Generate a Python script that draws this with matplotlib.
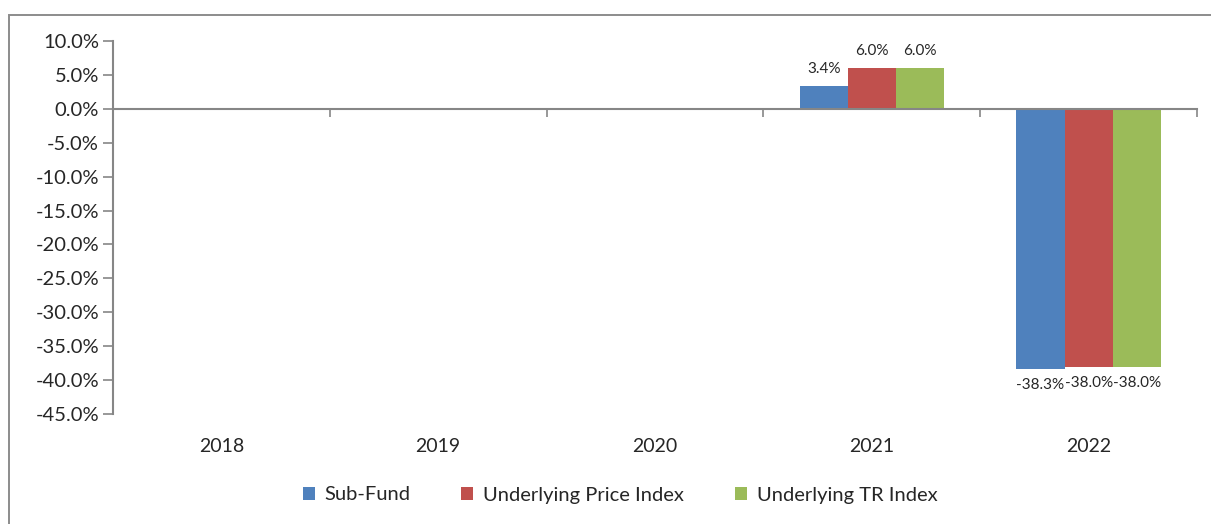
import numpy as np
import matplotlib
matplotlib.use("Agg")
import matplotlib.pyplot as plt
from matplotlib.patches import Rectangle
from matplotlib.ticker import FuncFormatter

plt.rcParams['font.family'] = ['Lato', 'DejaVu Sans']

# --------------------------------------------------------------
# data
years = ['2018', '2019', '2020', '2021', '2022']
sub_fund = [np.nan, np.nan, np.nan, 3.4, -38.3]
price_index = [np.nan, np.nan, np.nan, 6.0, -38.0]
tr_index = [np.nan, np.nan, np.nan, 6.0, -38.0]

series_names = ['Sub-Fund', 'Underlying Price Index', 'Underlying TR Index']
series_colors = ['#4F81BD', '#C0504D', '#9BBB59']
axis_gray = '#868686'
text_color = '#262626'

# --------------------------------------------------------------
# figure
fig = plt.figure(figsize=(12.11, 5.24), dpi=100)
ax = fig.add_axes([113 / 1211, 1 - 414 / 524, (1197 - 113) / 1211, (414 - 41) / 524])

# outer chart border (right and bottom edges fall outside the image)
fig.patches.append(Rectangle((8.5 / 1211, -0.1), 1.0, 1.1 - 14.5 / 524, transform=fig.transFigure,
                             fill=False, edgecolor='#8C8C8C', linewidth=1.4))

x = np.arange(len(years))
bar_w = 0.222
for i, (vals, name, col) in enumerate(zip([sub_fund, price_index, tr_index], series_names, series_colors)):
    bars = ax.bar(x + (i - 1) * bar_w, vals, width=bar_w, color=col, label=name, zorder=2)
    labels = ['' if np.isnan(v) else f'{v:.1f}%' for v in vals]
    ax.bar_label(bars, labels=labels, padding=7, fontsize=11, color=text_color)

ax.set_xlim(-0.5, 4.5)
ax.set_ylim(-45, 10)
ax.set_yticks(np.arange(-45, 10.1, 5))
ax.yaxis.set_major_formatter(FuncFormatter(lambda v, p: f'{v:.1f}%'))
ax.tick_params(axis='y', direction='out', length=7, width=1.2, color=axis_gray,
               labelsize=14.5, labelcolor=text_color, pad=3)

# category axis along zero line
for s in ['top', 'right']:
    ax.spines[s].set_visible(False)
ax.spines['left'].set_color(axis_gray)
ax.spines['left'].set_linewidth(1.5)
ax.spines['bottom'].set_position(('data', 0))
ax.spines['bottom'].set_color(axis_gray)
ax.spines['bottom'].set_linewidth(1.5)
ax.set_xticks(np.arange(0.5, 4.6, 1))
ax.set_xticklabels([])
ax.tick_params(axis='x', direction='out', length=6, width=1.2, color=axis_gray)
for xi, yr in zip(x, years):
    ax.text(xi, -0.088, yr, transform=ax.get_xaxis_transform(), ha='center', va='center',
            fontsize=14, color=text_color)

leg = fig.legend(loc='center', bbox_to_anchor=(620 / 1211, 1 - 495 / 524), ncol=3, frameon=False,
                 fontsize=14.5, handlelength=0.6, handleheight=0.6, handletextpad=0.5,
                 columnspacing=2.5, labelcolor=text_color)

fig.savefig('out.png', dpi=100)
